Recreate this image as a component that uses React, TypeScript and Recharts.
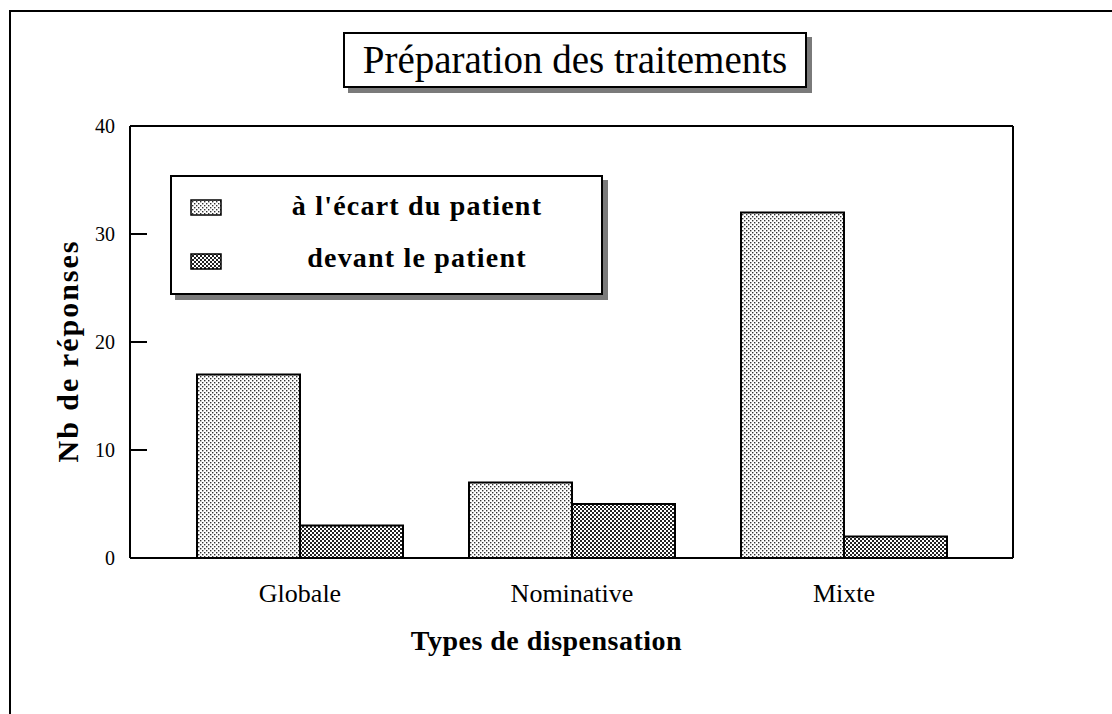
import { BarChart, Bar, XAxis, YAxis, Legend, ReferenceLine } from "recharts"

const categories = ["Globale", "Nominative", "Mixte"]
const ecartValues = [17, 7, 32]
const devantValues = [3, 5, 2]
const yTicks = [0, 10, 20, 30, 40]
const innerTicks = [10, 20, 30]

const seriesNames = ["à l'écart du patient", "devant le patient"]

const data = categories.map((c, i) => ({
  cat: c,
  ecart: ecartValues[i],
  devant: devantValues[i],
}))

const SERIF = "'Liberation Serif', 'Times New Roman', serif"

// short inward tick mark on the left axis
const tickMark = (props: any) => {
  const { x1, y1 } = props
  return <path d={`M${x1},${y1}h17`} stroke="#000" strokeWidth={2} fill="none" />
}

const Swatch = ({ fill }: { fill: string }) => (
  <svg width={32} height={17} style={{ display: "block" }}>
    <rect x={1} y={1} width={30} height={15} fill={fill} stroke="#000" strokeWidth={1.5} />
  </svg>
)

const renderLegend = () => (
  <div
    style={{
      width: 429,
      height: 116,
      border: "2px solid #000",
      background: "#fff",
      boxShadow: "5px 5px 0 #7a7a7a",
      position: "relative",
      fontFamily: SERIF,
      fontWeight: "bold",
      fontSize: 28,
      letterSpacing: 1.2,
      color: "#000",
    }}
  >
    {[0, 1].map((i) => (
      <div key={i} style={{ position: "absolute", left: 18, top: i === 0 ? 22 : 76 }}>
        <Swatch fill={i === 0 ? "url(#patLight)" : "url(#patDark)"} />
      </div>
    ))}
    {seriesNames.map((n, i) => (
      <div
        key={n}
        style={{
          position: "absolute",
          left: 60,
          width: 370,
          textAlign: "center",
          top: i === 0 ? 12 : 64,
          lineHeight: "34px",
        }}
      >
        {n}
      </div>
    ))}
  </div>
)

export default function App() {
  return (
    <div style={{ position: "absolute", left: 0, top: 0, width: 1112, height: 714, background: "#fff", overflow: "hidden" }}>
      <div
        style={{
          position: "absolute",
          left: 9,
          top: 10,
          width: 1120,
          height: 720,
          borderTop: "2px solid #000",
          borderLeft: "2px solid #000",
        }}
      />
      <div
        style={{
          position: "absolute",
          left: 343,
          top: 32,
          width: 460,
          height: 52,
          border: "2px solid #000",
          boxShadow: "5px 5px 0 #7a7a7a",
          background: "#fff",
          fontFamily: SERIF,
          fontSize: 39,
          lineHeight: "52px",
          textAlign: "center",
          zIndex: 2,
        }}
      >
        Préparation des traitements
      </div>
      <BarChart
        width={1112}
        height={714}
        data={data}
        margin={{ top: 125, right: 98, bottom: 56, left: 70 }}
        barSize={103}
        barGap={0}
        style={{ position: "absolute", left: 0, top: 0 }}
      >
        <defs>
          <pattern id="patLight" width={4} height={4} patternUnits="userSpaceOnUse">
            <rect width={4} height={4} fill="#fff" />
            <rect x={0} y={0} width={1.4} height={1.4} fill="#333" />
            <rect x={2} y={2} width={1.4} height={1.4} fill="#333" />
          </pattern>
          <pattern id="patDark" width={4} height={4} patternUnits="userSpaceOnUse">
            <rect width={4} height={4} fill="#fff" />
            <rect x={0} y={0} width={2} height={2} fill="#222" />
            <rect x={2} y={2} width={2} height={2} fill="#222" />
          </pattern>
        </defs>
        <XAxis
          dataKey="cat"
          height={100}
          padding={{ left: 34, right: 33 }}
          tickLine={false}
          tickSize={0}
          tickMargin={26}
          axisLine={{ stroke: "#000", strokeWidth: 2 }}
          tick={{ fill: "#000", fontSize: 26, fontFamily: SERIF }}
          label={{
            value: "Types de dispensation",
            position: "insideBottom",
            offset: 8,
            dx: -25,
            fill: "#000",
            fontSize: 28,
            fontWeight: "bold",
            fontFamily: SERIF,
            letterSpacing: 0.5,
          }}
        />
        <XAxis
          xAxisId="top"
          dataKey="cat"
          orientation="top"
          height={1}
          tick={false}
          tickLine={false}
          axisLine={{ stroke: "#000", strokeWidth: 2 }}
        />
        <YAxis
          width={60}
          domain={[0, 40]}
          ticks={yTicks}
          tickLine={false}
          tickSize={0}
          tickMargin={15}
          axisLine={{ stroke: "#000", strokeWidth: 2 }}
          tick={{ fill: "#000", fontSize: 20, fontFamily: SERIF }}
          label={{
            value: "Nb de réponses",
            angle: -90,
            position: "left",
            offset: 3,
            dy: 9,
            textAnchor: "middle",
            fill: "#000",
            fontSize: 30,
            fontWeight: "bold",
            fontFamily: SERIF,
            letterSpacing: 2,
          }}
        />
        <YAxis
          yAxisId="right"
          orientation="right"
          width={1}
          domain={[0, 40]}
          tick={false}
          tickLine={false}
          axisLine={{ stroke: "#000", strokeWidth: 2 }}
        />
        {innerTicks.map((t) => (
          <ReferenceLine key={t} y={t} stroke="#000" strokeWidth={2} shape={tickMark} />
        ))}
        <Legend
          layout="vertical"
          align="center"
          verticalAlign="middle"
          content={renderLegend}
          wrapperStyle={{ left: 170, top: 175, width: 433, height: 120 }}
        />
        <Bar dataKey="ecart" name={seriesNames[0]} fill="url(#patLight)" stroke="#000" strokeWidth={2} isAnimationActive={false} />
        <Bar dataKey="devant" name={seriesNames[1]} fill="url(#patDark)" stroke="#000" strokeWidth={2} isAnimationActive={false} />
      </BarChart>
    </div>
  )
}
